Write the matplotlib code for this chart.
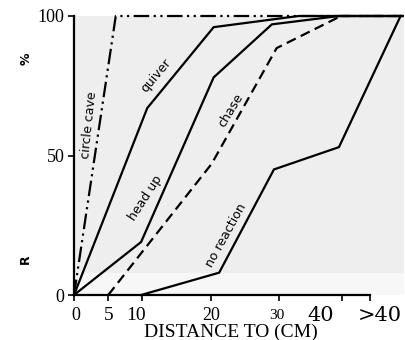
import numpy as np
import matplotlib
matplotlib.use("Agg")
import matplotlib.pyplot as plt
import matplotlib.transforms as mtransforms

# ── data (distance in cm, response in %) ─────────────────────────────────────
circle_x = [0, 6.1, 48]
circle_y = [0, 100, 100]

quiver_x = [0, 10.7, 20.4, 32.8, 48]
quiver_y = [0, 67, 96, 100, 100]

headup_x = [0, 9.8, 20.4, 28.9, 38.7, 48]
headup_y = [0, 19, 78, 97, 100, 100]

chase_x = [5, 20.1, 29.6, 39, 48]
chase_y = [0, 47, 88.5, 100, 100]

noreact_x = [9.8, 21.2, 29.2, 38.7, 47.7]
noreact_y = [0, 8, 45, 53, 100]

xtick_pos = [0, 5, 10, 20, 30, 39.1, 43.2]
ytick_pos = [0, 50, 100]
ytick_lab = ["0", "50", "100"]

# curve labels: (text, x, y, angle)
curve_labels = [
    ("circle cave", 2.2, 61, 84),
    ("quiver", 12.0, 78.5, 50),
    ("head up", 10.4, 34.8, 57),
    ("chase", 22.9, 66, 59),
    ("no reaction", 22.2, 21.5, 61),
]

SERIF = "Liberation Serif"

fig = plt.figure(figsize=(4.06, 3.40), dpi=100)
ax = fig.add_axes([74 / 406, 45 / 340, 330 / 406, 279 / 340])
ax.set_facecolor("#eeeeee")
ax.set_xlim(0, 48.2)
ax.set_ylim(0, 100)

# lighter strip near the baseline (scan artefact in the original)
ax.axhspan(0, 8, color="#f7f7f7", zorder=0)

kw = dict(color="black", lw=1.6, clip_on=False, solid_joinstyle="miter")
ax.plot(circle_x, circle_y, dashes=(7, 2, 1, 2, 1, 2), **kw)
ax.plot(quiver_x, quiver_y, **kw)
ax.plot(headup_x, headup_y, **kw)
ax.plot(chase_x, chase_y, dashes=(4.5, 2.5), **kw)
ax.plot(noreact_x, noreact_y, **kw)

for txt, x, y, ang in curve_labels:
    ax.text(x, y, txt, rotation=ang, ha="center", va="center",
            fontsize=9, family="DejaVu Sans", rotation_mode="anchor")

# spines
for s in ("top", "right"):
    ax.spines[s].set_visible(False)
ax.spines["left"].set_linewidth(1.6)
ax.spines["bottom"].set_linewidth(1.6)
ax.spines["bottom"].set_bounds(0, 43.2)

ax.set_yticks(ytick_pos)
ax.set_yticklabels(ytick_lab, family=SERIF, fontsize=13)
ax.tick_params(axis="y", direction="out", length=4, width=1.2, pad=3)

ax.set_xticks(xtick_pos)
ax.set_xticklabels([""] * len(xtick_pos))
ax.tick_params(axis="x", direction="out", length=4, width=1.2)

# x tick labels, hand placed like the original
trans = mtransforms.blended_transform_factory(ax.transData, ax.transAxes)
xlab = [
    ("0", 0.3, SERIF, 13),
    ("5", 5.1, SERIF, 14),
    ("10", 9.05, SERIF, 14),
    ("20", 20.0, SERIF, 13),
    ("30", 29.6, SERIF, 11),
    ("40", 36.0, "DejaVu Serif", 15),
    (">40", 44.6, "DejaVu Serif", 15),
]
for txt, x, fam, fs in xlab:
    ax.text(x, -0.072, txt, transform=trans, ha="center", va="center",
            family=fam, fontsize=fs)

fig.text(231 / 406, 1 - 332 / 340, "DISTANCE TO (CM)", ha="center",
         va="center", family=SERIF, fontsize=14)

# side markers on the y axis
fig.text(26 / 406, 1 - 59 / 340, "%", rotation=90, ha="center", va="center",
         fontsize=9, fontweight="bold", family="DejaVu Sans")
fig.text(25 / 406, 1 - 259 / 340, "R", rotation=90, ha="center", va="center",
         fontsize=9, fontweight="bold", family="DejaVu Sans")

fig.savefig("out.png", dpi=100)
